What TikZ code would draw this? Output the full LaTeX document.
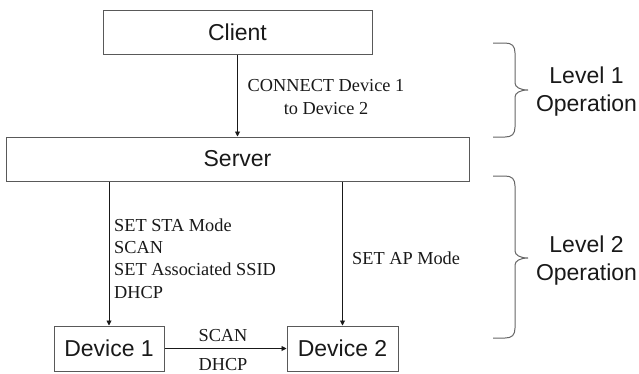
\documentclass[tikz,border=0pt]{standalone}
\usepackage{fontspec}
\setmainfont{Liberation Serif}
\newfontfamily\boxfont{Liberation Sans}
\usepackage{tikz}
\usetikzlibrary{arrows.meta}

\begin{document}
\begin{tikzpicture}[x=1pt,y=-1pt,
	box/.style={rectangle,draw=black!65,line width=1pt,inner sep=0pt,
		font=\boxfont\fontsize{23}{28}\selectfont,text=black!90},
	msg/.style={inner sep=0pt,font=\fontsize{18.3}{22.3}\selectfont,text=black!90},
	level/.style={inner sep=0pt,align=center,font=\boxfont\fontsize{23}{28}\selectfont,text=black!90},
	arrow/.style={draw=black!90,line width=0.9pt,-{Triangle[length=5pt,width=5pt]}},
	bracket/.style={draw=black!60,line width=1pt}]
	\useasboundingbox (0,0) rectangle (639,373);

	 \node at (237.5,32) [box,minimum width=269pt,minimum height=44pt] (client) {Client};
	 \node at (237.5,159) [box,minimum width=463pt,minimum height=44pt] (server) {Server};
	 \node at (109,348.5) [box,minimum width=110pt,minimum height=45pt] (dev1) {Device 1};
	 \node at (342.5,348.5) [box,minimum width=111pt,minimum height=45pt] (dev2) {Device 2};

	 % messages
	 \node at (326,97) [msg,align=center] (connect) {CONNECT Device 1\\to Device 2};
	 \node at (114,258.5) [msg,align=left,anchor=west] (stacmd) {SET STA Mode\\SCAN\\SET Associated SSID\\DHCP};
	 \node at (352,258) [msg,anchor=west] (apcmd) {SET AP Mode};
	 \node at (223,336) [msg] (scan) {SCAN};
	 \node at (223,364.5) [msg] (dhcp) {DHCP};

	 \draw[arrow] (client) -- (server);
	 \draw[arrow] (server.south -| dev1) -- (dev1);
	 \draw[arrow] (server.south -| dev2) -- (dev2);
	 \draw[arrow] (dev1) -- (dev2);

	 % level braces
	 \draw[bracket] (493,43) -- (505,43) .. controls (512,43) and (515,46) .. (515,53)
		-- (515,83) .. controls (515,87) and (520,90) .. (528,90)
		.. controls (520,90) and (515,93) .. (515,97)
		-- (515,127) .. controls (515,134) and (512,137) .. (505,137) -- (493,137);
	 \draw[bracket] (493,176) -- (505,176) .. controls (512,176) and (515,179) .. (515,186)
		-- (515,251) .. controls (515,255) and (520,258) .. (528,258)
		.. controls (520,258) and (515,261) .. (515,265)
		-- (515,328) .. controls (515,335) and (512,338) .. (505,338) -- (493,338);
	 \node at (586.5,92) [level] (level1) {Level 1\\Operation};
	 \node at (586.5,261) [level] (level2) {Level 2\\Operation};

\end{tikzpicture}
\end{document}
